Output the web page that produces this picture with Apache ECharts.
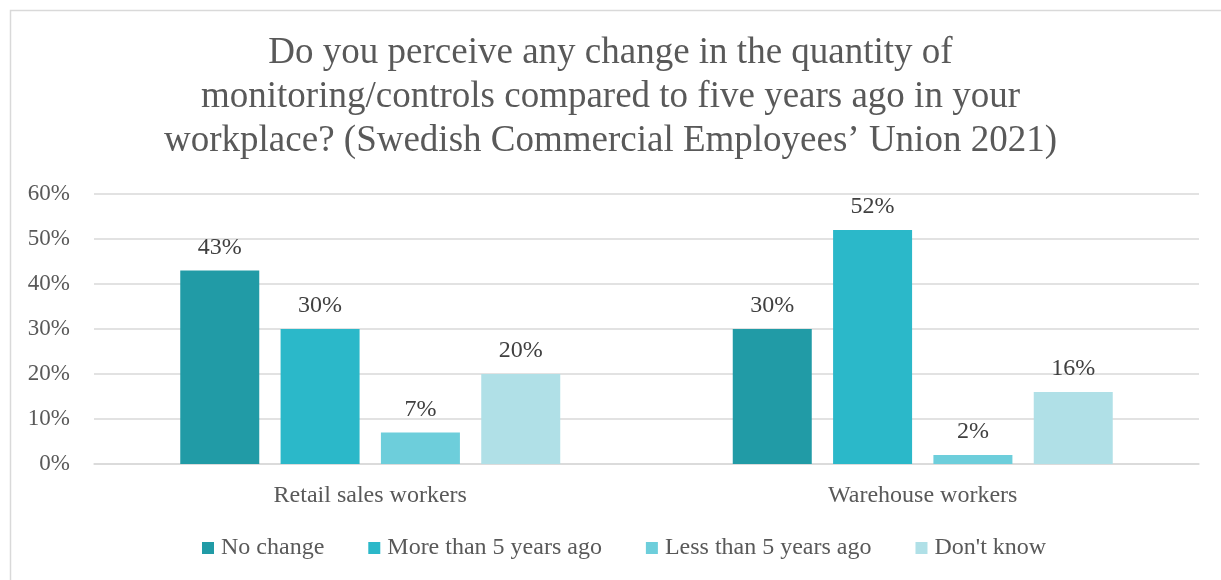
<!DOCTYPE html>
<html>
<head>
<meta charset="utf-8">
<script src="https://cdn.jsdelivr.net/npm/echarts@6/dist/echarts.min.js"></script>
<style>
html,body{margin:0;padding:0;background:#fff;}
#chart{width:1221px;height:580px;}
</style>
</head>
<body>
<div id="chart"></div>
<script>
// Survey results: Swedish Commercial Employees' Union 2021
const titleLines = [
  'Do you perceive any change in the quantity of',
  'monitoring/controls compared to five years ago in your',
  'workplace? (Swedish Commercial Employees\u2019 Union 2021)'
];
const categories = ['Retail sales workers', 'Warehouse workers'];
const seriesNames = ['No change', 'More than 5 years ago', 'Less than 5 years ago', "Don't know"];
const noChange = [43, 30];
const moreThan5 = [30, 52];
const lessThan5 = [7, 2];
const dontKnow = [20, 16];
const yTicks = [0, 10, 20, 30, 40, 50, 60];

const colors = ['#219BA6', '#2BB8C9', '#6DCEDB', '#B0E0E7'];
const FONT = '"Liberation Serif", "DejaVu Serif", serif';
const values = [noChange, moreThan5, lessThan5, dontKnow];

const chart = echarts.init(document.getElementById('chart'));
chart.setOption({
  animation: false,
  backgroundColor: '#ffffff',
  graphic: [{
    type: 'rect',
    left: 8, top: 8,
    shape: { width: 1300, height: 700 },
    style: { fill: 'none', stroke: '#d9d9d9', lineWidth: 1.5 },
    silent: true
  }],
  title: {
    text: titleLines.join('\n'),
    left: 'center',
    top: 26,
    textStyle: {
      fontFamily: FONT, fontSize: 37, fontWeight: 'normal',
      color: '#595959', lineHeight: 44
    }
  },
  legend: {
    bottom: 15,
    left: 197,
    itemWidth: 12, itemHeight: 12,
    itemGap: 44,
    icon: 'rect',
    textStyle: { fontFamily: FONT, fontSize: 24, color: '#595959', padding: [0, 0, 0, 2] },
    data: seriesNames
  },
  grid: { left: 94, right: 22, top: 194, bottom: 116, containLabel: false },
  xAxis: {
    type: 'category',
    data: categories,
    axisLine: { lineStyle: { color: '#d9d9d9', width: 1.5 } },
    axisTick: { show: false },
    axisLabel: { fontFamily: FONT, fontSize: 24, color: '#595959', margin: 20 }
  },
  yAxis: {
    type: 'value',
    min: yTicks[0], max: yTicks[yTicks.length - 1], interval: 10,
    axisLine: { show: false },
    axisTick: { show: false },
    splitLine: { lineStyle: { color: '#d9d9d9', width: 1.5 } },
    axisLabel: {
      fontFamily: FONT, fontSize: 23, color: '#595959', margin: 24,
      formatter: v => v + '%'
    }
  },
  series: seriesNames.map((name, i) => ({
    name: name,
    type: 'bar',
    data: values[i],
    barWidth: 79,
    barGap: '27%',
    itemStyle: { color: colors[i] },
    label: {
      show: true, position: 'top', distance: 11,
      fontFamily: FONT, fontSize: 24, color: '#404040',
      formatter: p => p.value + '%'
    }
  })),
  color: colors
});
</script>
</body>
</html>
